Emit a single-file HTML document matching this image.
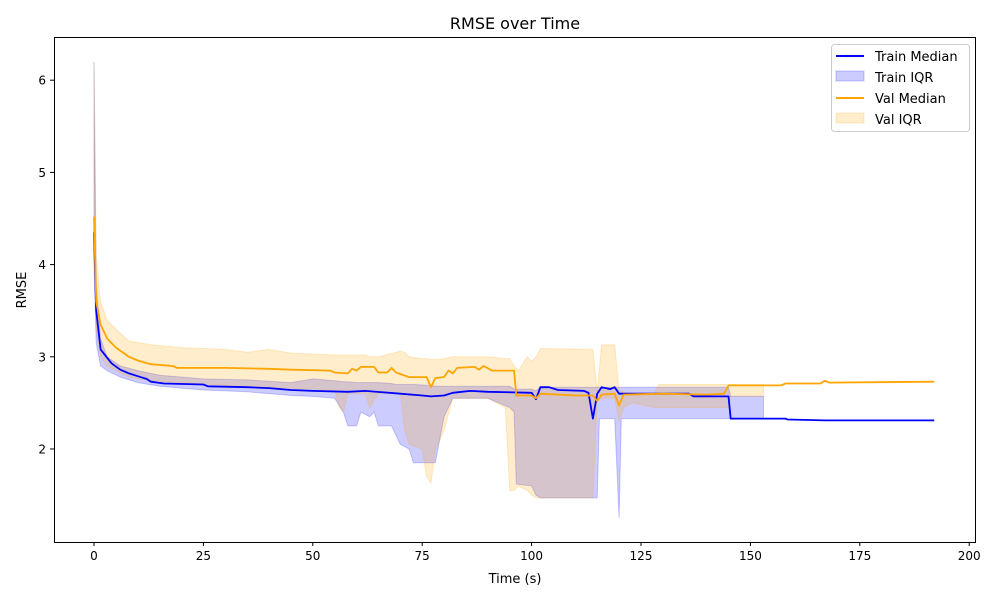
<!DOCTYPE html>
<html><head><meta charset="utf-8"><style>
body{margin:0;background:#fff}
svg text{font-family:"DejaVu Sans","Liberation Sans",sans-serif;fill:#000}
</style></head><body>
<svg id="chart" width="1000" height="600" xmlns="http://www.w3.org/2000/svg">
<rect width="1000" height="600" fill="#fff"/>
<text x="515" y="29" font-size="16" text-anchor="middle">RMSE over Time</text>
<g id="plot"></g>
<rect x="54.5" y="37.5" width="921" height="505" fill="none" stroke="#000" stroke-width="1"/>
<g id="xticks"></g><g id="yticks"></g>
<text x="515" y="583" font-size="13" text-anchor="middle">Time (s)</text>
<text x="26" y="290" font-size="13" text-anchor="middle" transform="rotate(-90 26 290)">RMSE</text>
<g>
<rect x="831.5" y="44.5" width="138" height="87" rx="3" fill="#fff" fill-opacity="0.8" stroke="#ccc"/>
<line x1="836" y1="56" x2="864" y2="56" stroke="#0000ff" stroke-width="2"/>
<text x="875" y="61" font-size="13">Train Median</text>
<rect x="836" y="71" width="28" height="10" fill="rgba(0,0,255,0.2)" stroke="rgba(0,0,255,0.2)"/>
<text x="875" y="82" font-size="13">Train IQR</text>
<line x1="836" y1="98" x2="864" y2="98" stroke="#ffa500" stroke-width="2"/>
<text x="875" y="103" font-size="13">Val Median</text>
<rect x="836" y="113" width="28" height="10" fill="rgba(255,165,0,0.2)" stroke="rgba(255,165,0,0.2)"/>
<text x="875" y="124" font-size="13">Val IQR</text>
</g>
</svg>
<script>
const xTicks=[0,25,50,75,100,125,150,175,200];
const yTicks=[2,3,4,5,6];
const trainT=[0,0.5,1.5,4,6,8,10,12,13,16,25,26,35,40,45,50,58,62,70,75,77,80,82,86,90,100,101,102,104,106,112,113,114,115,116,118,119,120,125,136,137,145,145.5,158,158.5,167,192];
const trainMed=[4.35,3.5,3.08,2.93,2.86,2.82,2.79,2.76,2.73,2.71,2.70,2.68,2.67,2.66,2.64,2.63,2.62,2.63,2.60,2.58,2.57,2.58,2.61,2.63,2.62,2.61,2.54,2.67,2.67,2.64,2.63,2.61,2.33,2.6,2.67,2.65,2.67,2.6,2.6,2.6,2.57,2.57,2.33,2.33,2.32,2.31,2.31];
const valT=[0,0.5,1.5,3,5,8,10,13,18,19,30,40,45,54,55,58,59,60,61,64,65,67,68,69,72,76,77,78,80,81,82,83,87,88,89,91,96,96.5,100,101,102,110,114,115,116,119,120,121,130,140,144,145,157,158,166,167,168,192];
const valMed=[4.52,3.6,3.35,3.2,3.1,3.0,2.96,2.92,2.9,2.88,2.88,2.87,2.86,2.85,2.83,2.82,2.87,2.85,2.89,2.89,2.83,2.83,2.88,2.83,2.78,2.78,2.67,2.77,2.78,2.85,2.82,2.88,2.89,2.86,2.9,2.85,2.85,2.58,2.58,2.55,2.6,2.58,2.58,2.52,2.59,2.6,2.47,2.59,2.6,2.59,2.6,2.69,2.69,2.71,2.71,2.74,2.72,2.73];
const trainIqrT=[0,0.5,1.5,3,6,10,15,25,35,45,50,55,57,58,60,61,63,64,65,68,69,70,72,73,77,78,80,82,90,95,96,96.5,100,101,102,115,115.5,119,120,120.5,128,129,145,145.5,153];
const trainLow=[4.0,3.15,2.9,2.85,2.78,2.72,2.68,2.64,2.62,2.58,2.57,2.55,2.4,2.25,2.25,2.4,2.35,2.4,2.25,2.25,2.15,2.05,2.0,1.85,1.85,1.85,2.35,2.55,2.55,2.45,2.4,1.62,1.6,1.5,1.47,1.47,2.33,2.33,1.25,2.33,2.33,2.33,2.33,2.33,2.33];
const trainHigh=[6.2,3.8,3.2,3.0,2.9,2.85,2.8,2.76,2.75,2.72,2.76,2.74,2.73,2.73,2.72,2.72,2.72,2.72,2.72,2.71,2.7,2.7,2.7,2.7,2.69,2.68,2.68,2.68,2.68,2.68,2.65,2.65,2.65,2.63,2.67,2.67,2.67,2.67,2.67,2.67,2.67,2.67,2.67,2.57,2.57];
const valIqrT=[0,0.5,1.5,3,5,8,13,20,30,35,40,45,55,56,57,58,62,63,65,70,71,72,75,76,77,78,80,82,90,94,95,96,97,99,100,101,102,114,115,116,119,120,121,123,128,129,145,145.5,153];
const valLow=[4.2,3.3,3.0,2.9,2.85,2.78,2.74,2.72,2.69,2.69,2.67,2.66,2.64,2.45,2.4,2.6,2.6,2.45,2.6,2.6,2.2,2.05,2.0,1.7,1.63,2.0,2.2,2.55,2.55,2.45,1.55,1.55,1.6,1.55,1.5,1.47,1.47,1.47,2.55,2.55,2.55,2.3,2.45,2.5,2.45,2.45,2.45,2.57,2.57];
const valHigh=[6.2,4.1,3.6,3.4,3.3,3.17,3.13,3.1,3.08,3.05,3.08,3.04,3.02,3.02,3.02,3.02,3.02,3.0,3.0,3.06,3.05,3.0,2.98,2.98,2.97,2.97,2.98,3.0,3.0,2.98,2.98,2.9,2.85,3.0,2.95,3.0,3.09,3.08,2.62,3.13,3.13,2.62,2.62,2.6,2.6,2.7,2.7,2.7,2.7];

const X=t=>94+t*4.376;
const Y=v=>449-(v-2)*92.2;
const NS='http://www.w3.org/2000/svg';
const plot=document.getElementById('plot');
function mk(tag,attrs,parent){const e=document.createElementNS(NS,tag);for(const k in attrs)e.setAttribute(k,attrs[k]);parent.appendChild(e);return e;}
function band(ts,lo,hi,fill){
  let d='M'+ts.map((t,i)=>X(t).toFixed(1)+','+Y(hi[i]).toFixed(1)).join('L');
  for(let i=ts.length-1;i>=0;i--)d+='L'+X(ts[i]).toFixed(1)+','+Y(lo[i]).toFixed(1);
  return mk('path',{d:d+'Z',fill:fill,stroke:fill,'stroke-width':1},plot);
}
function line(ts,vs,col){
  return mk('path',{d:'M'+ts.map((t,i)=>X(t).toFixed(1)+','+Y(vs[i]).toFixed(1)).join('L'),fill:'none',stroke:col,'stroke-width':1.8,'stroke-linejoin':'round'},plot);
}
const tb=band(trainIqrT,trainLow,trainHigh,'rgba(0,0,255,0.2)');


const vb=band(valIqrT,valLow,valHigh,'rgba(255,165,0,0.2)');


const tl=line(trainT,trainMed,'#0000ff');


const vl=line(valT,valMed,'#ffa500');



const xg=document.getElementById('xticks');
xTicks.forEach(t=>{
  const x=X(t);
  const tk=mk('line',{x1:x,y1:542,x2:x,y2:546,stroke:'#000'},xg);
  
  
  const lb=mk('text',{x:x,y:560,'font-size':12,'text-anchor':'middle'},xg);
  lb.textContent=t;
  
  
});
const yg=document.getElementById('yticks');
yTicks.forEach(v=>{
  const y=Y(v);
  const tk=mk('line',{x1:50,y1:y,x2:54,y2:y,stroke:'#000'},yg);
  
  
  const lb=mk('text',{x:46,y:y+4.5,'font-size':12,'text-anchor':'end'},yg);
  lb.textContent=v;
  
  
});
</script>
</body></html>
